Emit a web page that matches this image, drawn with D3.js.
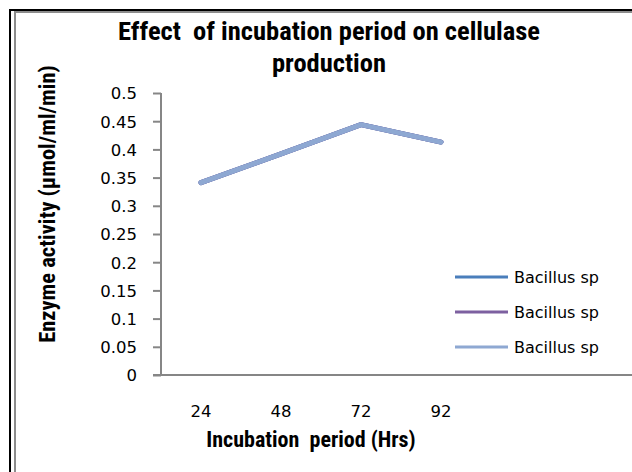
<!DOCTYPE html>
<html>
<head>
<meta charset="utf-8">
<script src="https://cdn.jsdelivr.net/npm/d3@7"></script>
<style>
  body { margin: 0; background: #fff; }
  svg { display: block; }
  text { white-space: pre; }
  .narrow { font-family: "Liberation Sans Narrow", "Arial Narrow", "Roboto Condensed", sans-serif; font-weight: bold; }
  .plain { font-family: "DejaVu Sans", sans-serif; }
</style>
</head>
<body>
<div id="chart"></div>
<script>
// data
var periods = ["24", "48", "72", "92"];
var seriesNames = ["Bacillus sp", "Bacillus sp", "Bacillus sp"];
var seriesColors = ["#4A7EBB", "#7D60A0", "#8EA8D2"];
var activity1 = [0.341, 0.392, 0.444, 0.413];
var activity2 = [0.341, 0.392, 0.444, 0.413];
var activity3 = [0.341, 0.392, 0.444, 0.413];
var yTicks = [0, 0.05, 0.1, 0.15, 0.2, 0.25, 0.3, 0.35, 0.4, 0.45, 0.5];
var titleLines = ["Effect  of incubation period on cellulase", "production"];

var W = 632, H = 472;
var svg = d3.select("#chart").append("svg")
    .attr("width", W)
    .attr("height", H);

// frame
svg.append("path").attr("d", "M10,472V10H632")
    .attr("fill", "none").attr("stroke", "#000").attr("stroke-width", 2);
svg.append("path").attr("d", "M15,472V12H632")
    .attr("fill", "none").attr("stroke", "#8c8c8c").attr("stroke-width", 2);

var x = d3.scaleBand().domain(periods).range([161, 481]);
var y = d3.scaleLinear().domain([0, 0.5]).range([375, 93]);

// axes
var yAxis = svg.append("g").attr("transform", "translate(161,0)")
    .call(d3.axisLeft(y).tickValues(yTicks).tickSize(8).tickPadding(16)
        .tickFormat(function(d){ return String(+d.toFixed(2)); }));
yAxis.select(".domain").remove();
yAxis.selectAll("line").attr("stroke", "#868686").attr("stroke-width", 2);
yAxis.selectAll("text").attr("class", "plain").attr("font-size", 16.5).attr("fill", "#000")
    .attr("dy", "0.36em");

svg.append("line").attr("x1", 161).attr("x2", 161).attr("y1", y(0.5)).attr("y2", y(0))
    .attr("stroke", "#868686").attr("stroke-width", 2);
svg.append("line").attr("x1", 153).attr("x2", W).attr("y1", y(0)).attr("y2", y(0))
    .attr("stroke", "#868686").attr("stroke-width", 2);

var xAxis = svg.append("g").attr("transform", "translate(0," + y(0) + ")")
    .call(d3.axisBottom(x).tickSize(0).tickPadding(30));
xAxis.select(".domain").remove();
xAxis.selectAll("text").attr("class", "plain").attr("font-size", 16.5).attr("fill", "#000");

// lines
var allSeries = [activity1, activity2, activity3];
var line = d3.line()
    .x(function(d, i){ return x(periods[i]) + x.bandwidth() / 2; })
    .y(function(d){ return y(d); });

svg.selectAll("path.series").data(allSeries).enter().append("path")
    .attr("class", "series")
    .attr("d", line)
    .attr("fill", "none")
    .attr("stroke", function(d, i){ return seriesColors[i]; })
    .attr("stroke-width", 5)
    .attr("stroke-linecap", "round")
    .attr("stroke-linejoin", "round");

// legend
var legend = svg.selectAll("g.legend").data(seriesNames).enter().append("g")
    .attr("class", "legend")
    .attr("transform", function(d, i){ return "translate(455," + (277 + i * 35) + ")"; });
legend.append("line").attr("x1", 0).attr("x2", 53)
    .attr("stroke", function(d, i){ return seriesColors[i]; })
    .attr("stroke-width", 3);
legend.append("text").attr("class", "plain").attr("x", 59).attr("dy", "0.36em")
    .attr("font-size", 16).text(function(d){ return d; });

// titles
svg.selectAll("text.title").data(titleLines).enter().append("text")
    .attr("class", "title narrow")
    .attr("x", 329).attr("y", function(d, i){ return 40 + i * 32; })
    .attr("text-anchor", "middle").attr("font-size", 26.5)
    .text(function(d){ return d; });

svg.append("text").attr("class", "narrow")
    .attr("x", 311).attr("y", 447).attr("text-anchor", "middle").attr("font-size", 22)
    .text("Incubation  period (Hrs)");

svg.append("text").attr("class", "narrow")
    .attr("transform", "translate(55,204) rotate(-90)")
    .attr("text-anchor", "middle").attr("font-size", 22.5)
    .text("Enzyme activity (\u00b5mol/ml/min)");
</script>
</body>
</html>
